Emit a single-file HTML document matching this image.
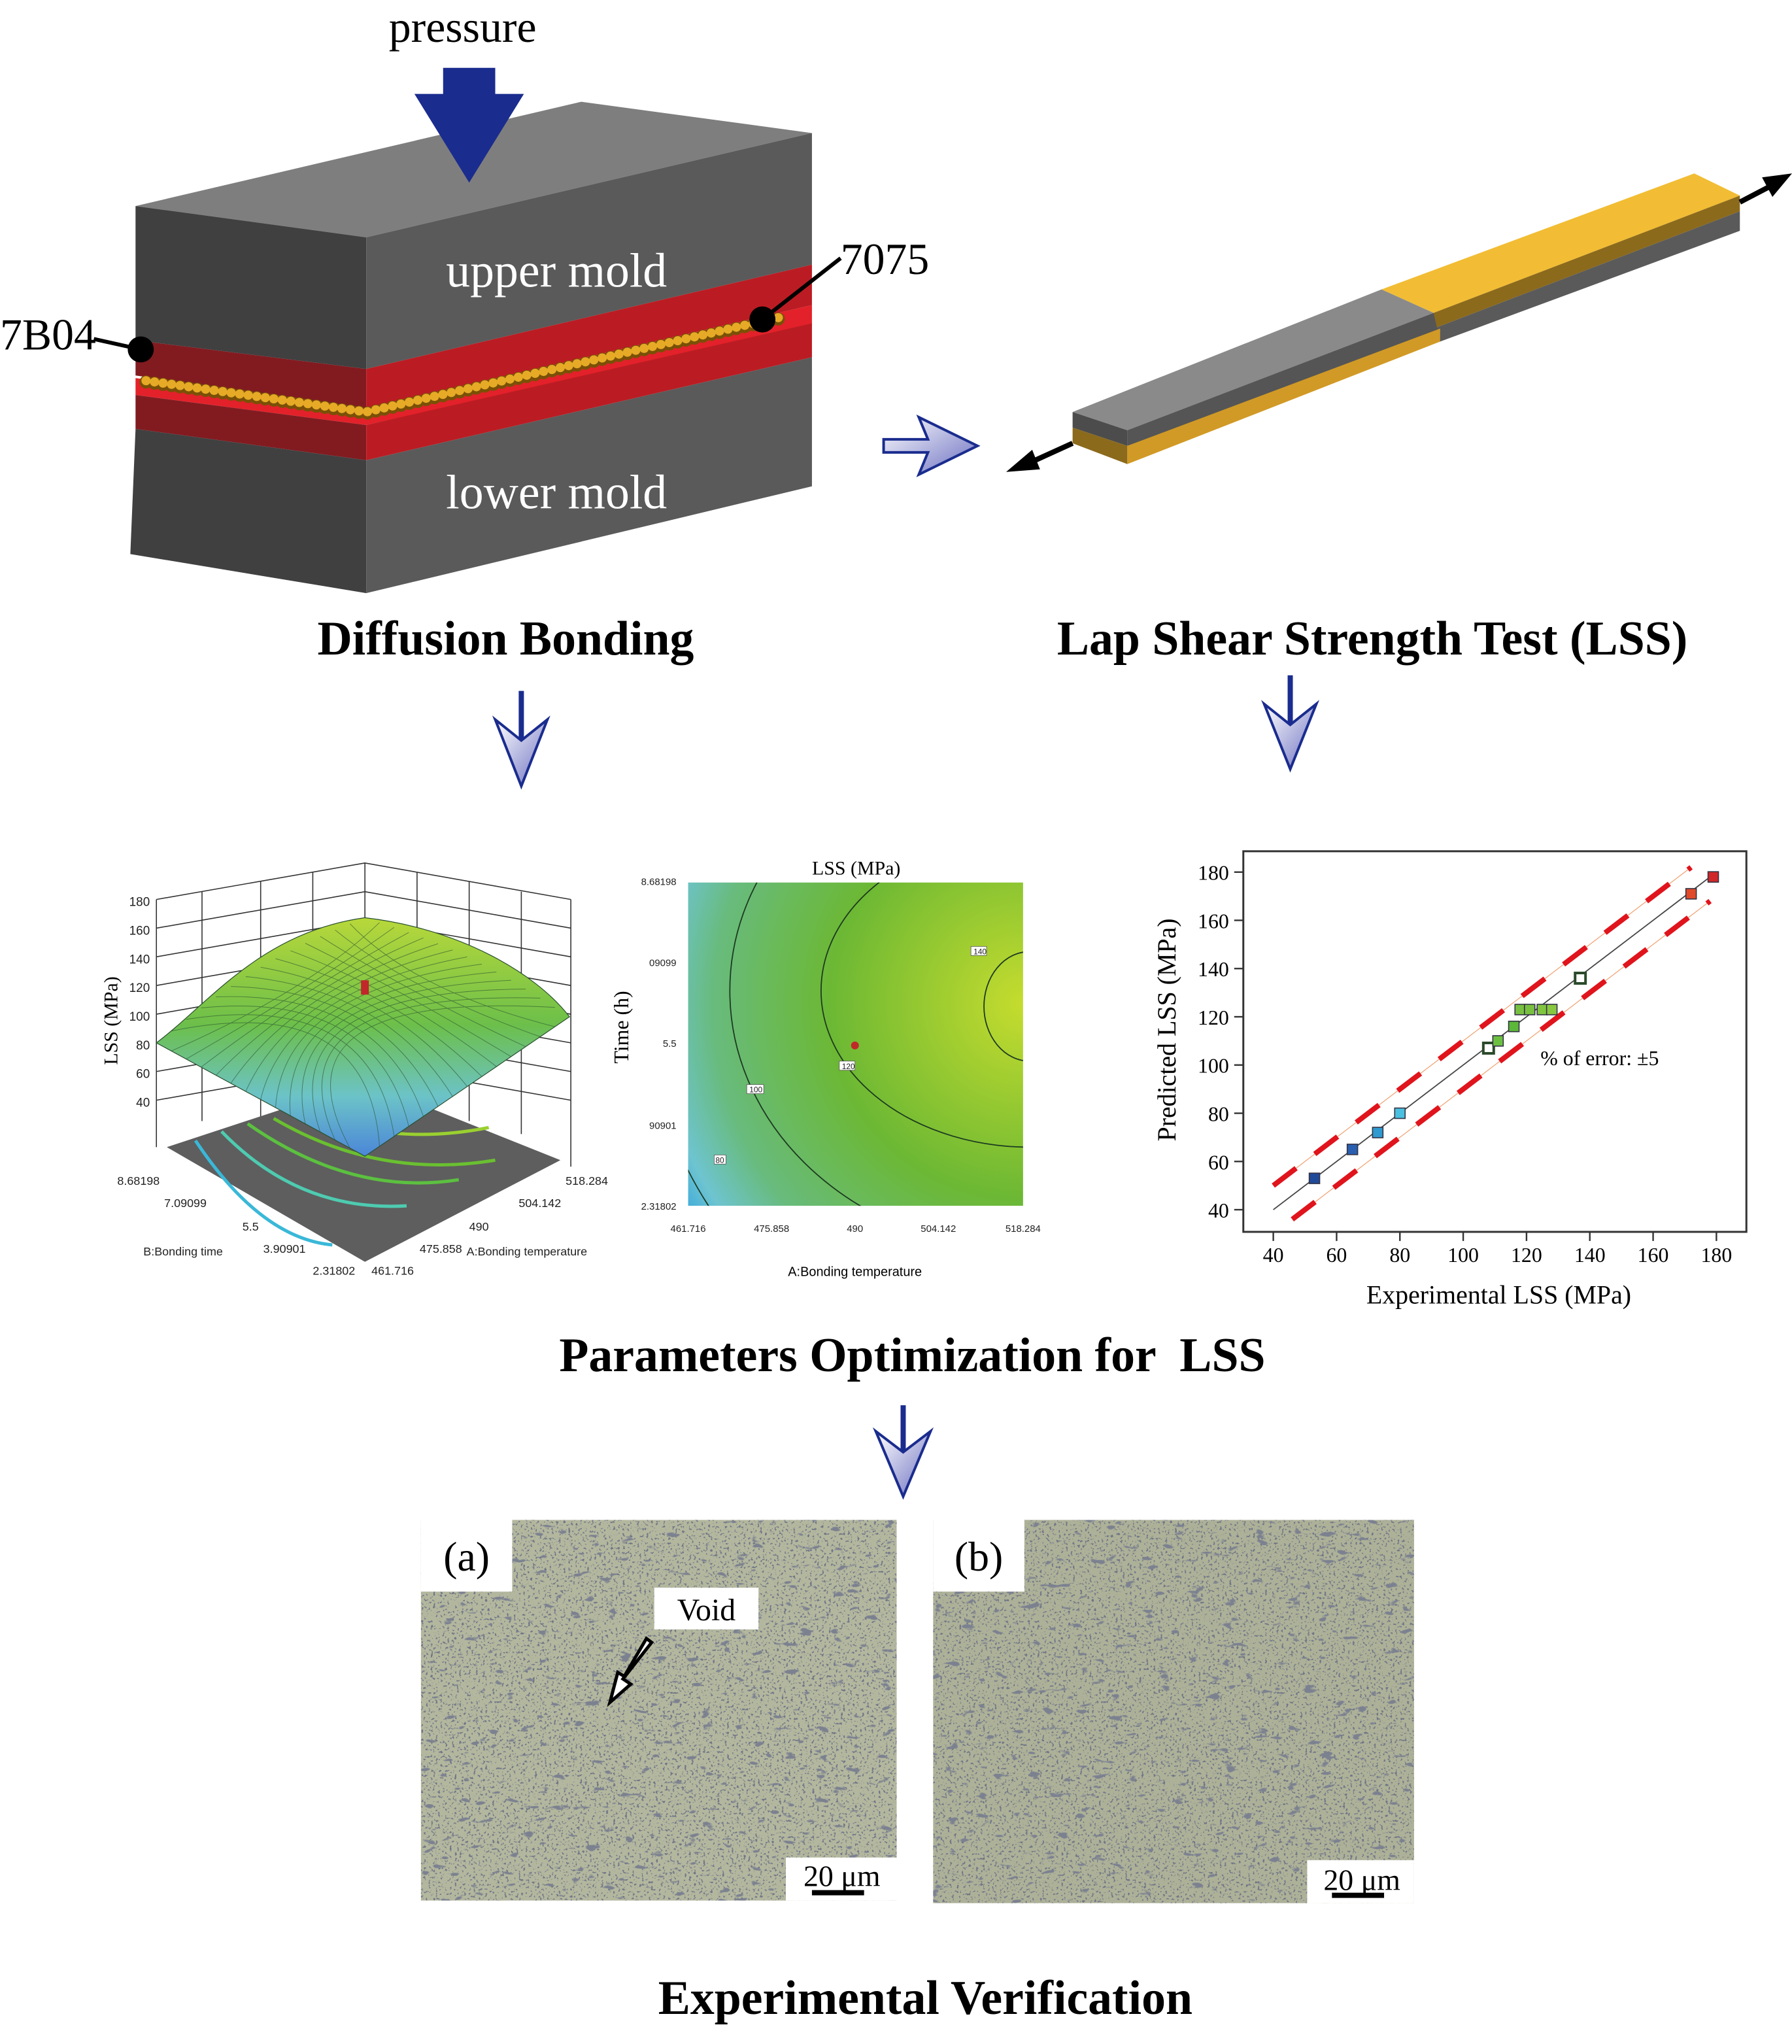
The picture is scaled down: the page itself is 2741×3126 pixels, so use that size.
<!DOCTYPE html>
<html><head><meta charset="utf-8"><style>
html,body{margin:0;padding:0;background:#fff;}
svg{display:block;}
text{font-family:"Liberation Serif",serif;}
.sans text{font-family:"Liberation Sans",sans-serif;}
.sans text.serif{font-family:"Liberation Serif",serif;}
</style></head><body>
<svg id="root" width="2741" height="3126" viewBox="0 0 1375 1568" xmlns="http://www.w3.org/2000/svg">
<defs>
<linearGradient id="arrG" x1="0" y1="0" x2="1" y2="1"><stop offset="0" stop-color="#ffffff"/><stop offset="1" stop-color="#6a6ec0"/></linearGradient>
<linearGradient id="surfG" x1="0" y1="0" x2="0" y2="1"><stop offset="0" stop-color="#b8d83a"/><stop offset="0.45" stop-color="#6cbf4a"/><stop offset="0.75" stop-color="#6cc3c8"/><stop offset="1" stop-color="#4b86d8"/></linearGradient>
<radialGradient id="contG" cx="785" cy="770" r="330" gradientUnits="userSpaceOnUse"><stop offset="0" stop-color="#c5dc2e"/><stop offset="0.45" stop-color="#6cb834"/><stop offset="0.72" stop-color="#68bb7c"/><stop offset="0.85" stop-color="#6ec4d0"/><stop offset="0.95" stop-color="#2aa0e0"/><stop offset="1" stop-color="#1f4fa8"/></radialGradient>
<filter id="micro" x="0" y="0" width="1" height="1"><feTurbulence type="fractalNoise" baseFrequency="0.55" numOctaves="2" seed="4"/><feColorMatrix type="matrix" values="0 0 0 0 0.16  0 0 0 0 0.18  0 0 0 0 0.24  11 0 0 0 -6.6"/><feComposite in2="SourceGraphic" operator="in"/></filter>
<filter id="micro2" x="0" y="0" width="1" height="1"><feTurbulence type="fractalNoise" baseFrequency="0.08 0.2" numOctaves="2" seed="9"/><feColorMatrix type="matrix" values="0 0 0 0 0.2  0 0 0 0 0.22  0 0 0 0 0.28  14 0 0 0 -9.4"/><feComposite in2="SourceGraphic" operator="in"/></filter>
</defs>

<!-- Diffusion bonding -->
<g>
<text x="355" y="32" font-size="34" text-anchor="middle">pressure</text>
<polygon points="104,158 446,78 623,102 281,182" fill="#7e7e7e"/>
<polygon points="104,158 281,182 281,283 104,261" fill="#404040"/>
<polygon points="281,182 623,102 623,203 281,283" fill="#5a5a5a"/>
<path d="M340,52 H380 V72 H402 L360,140 L318,72 H340 Z" fill="#1a2c8e"/>
<polygon points="281,313 623,234 623,250 281,326 104,303 104,290" fill="#e3212a"/>
<polygon points="104,261 281,283 281,313 104,288" fill="#821b20"/>
<polygon points="281,283 623,203 623,234 281,313" fill="#bb1c23"/>
<polyline points="112,293 281,317 600,244" fill="none" stroke="#7a5006" stroke-width="10" stroke-linecap="round" stroke-linejoin="round" stroke-dasharray="0.1,6.5"/>
<polyline points="112,292 281,316 600,243" fill="none" stroke="#e6aa26" stroke-width="7" stroke-linecap="round" stroke-linejoin="round" stroke-dasharray="0.1,6.5"/>
<polygon points="104,303 281,326 281,353 104,329" fill="#821b20"/>
<polygon points="281,326 623,248 623,274 281,353" fill="#bb1c23"/>
<polygon points="104,329 281,353 281,455 100,425" fill="#404040"/>
<polygon points="281,353 623,274 623,373 281,455" fill="#5a5a5a"/>
<text x="427" y="220" font-size="37" fill="#fff" text-anchor="middle">upper mold</text>
<text x="427" y="390" font-size="37" fill="#fff" text-anchor="middle">lower mold</text>
<text x="0" y="268" font-size="34">7B04</text>
<line x1="72" y1="260" x2="108" y2="268" stroke="#000" stroke-width="3"/>
<circle cx="108" cy="268" r="10" fill="#000"/>
<text x="645" y="210" font-size="34">7075</text>
<line x1="585" y1="245" x2="645" y2="198" stroke="#000" stroke-width="3"/>
<circle cx="585" cy="245" r="10" fill="#000"/>
</g>

<path d="M678,337 H712 L705,320 L750,342 L705,364 L712,347 H678 Z" fill="url(#arrG)" stroke="#1a2c8e" stroke-width="2"/>

<!-- Lap shear specimen -->
<g>
<polygon points="1060,222 1300,133 1335,150 1100,240" fill="#f2bd34"/>
<polygon points="1100,240 1335,150 1335,162 1100,252" fill="#8c6a1c"/>
<polygon points="1100,252 1335,162 1335,177 1105,262" fill="#5a5a5a"/>
<polygon points="823,316 1060,222 1100,240 865,330" fill="#8a8a8a"/>
<polygon points="823,316 865,330 865,342 823,328" fill="#4c4c4c"/>
<polygon points="865,330 1100,240 1105,262 865,342" fill="#555"/>
<polygon points="823,328 865,342 865,356 823,340" fill="#8c6a1c"/>
<polygon points="865,342 1105,252 1105,262 865,356" fill="#d19a26"/>
<line x1="823" y1="340" x2="790" y2="355" stroke="#000" stroke-width="4"/>
<polygon points="772,362 792,345 798,360" fill="#000"/>
<line x1="1335" y1="155" x2="1358" y2="143" stroke="#000" stroke-width="4"/>
<polygon points="1375,133 1352,136 1360,151" fill="#000"/>
</g>

<text x="388" y="502" font-size="37" font-weight="bold" text-anchor="middle">Diffusion Bonding</text>
<text x="1053" y="502" font-size="37" font-weight="bold" text-anchor="middle">Lap Shear Strength Test (LSS)</text>

<g><line x1="400" y1="530" x2="400" y2="572" stroke="#1a2c8e" stroke-width="4"/><path d="M380,552 L400,603 L420,552 L400,568 Z" fill="url(#arrG)" stroke="#1a2c8e" stroke-width="2"/></g>
<g><line x1="990" y1="518" x2="990" y2="560" stroke="#1a2c8e" stroke-width="4"/><path d="M970,540 L990,590 L1010,540 L990,556 Z" fill="url(#arrG)" stroke="#1a2c8e" stroke-width="2"/></g>
<g><line x1="693" y1="1078" x2="693" y2="1120" stroke="#1a2c8e" stroke-width="4"/><path d="M672,1098 L693,1148 L714,1098 L693,1114 Z" fill="url(#arrG)" stroke="#1a2c8e" stroke-width="2"/></g>

<!-- 3D surface -->
<g class="sans">
<g stroke="#333" stroke-width="0.8" fill="none">
<path d="M120,690 L280,662 L438,690 M280,662 V830 M120,690 V880 M438,690 V895"/>
<path d="M120,712 L280,684 L438,712 M120,734 L280,706 L438,734 M120,756 L280,728 L438,756 M120,778 L280,750 L438,778 M120,800 L280,772 L438,800 M120,822 L280,794 L438,822 M120,844 L280,816 L438,844"/>
<path d="M155,684 V860 M200,676 V860 M240,669 V840 M320,669 V840 M360,676 V860 M400,684 V870"/>
</g>
<polygon points="128,880 280,830 430,890 280,968" fill="#5e5e5e"/>
<g fill="none" stroke-width="2.5">
<path d="M150,875 Q200,950 255,955" stroke="#3ab8d8"/>
<path d="M170,868 Q230,930 312,925" stroke="#4ecbb0"/>
<path d="M190,862 Q270,918 352,905" stroke="#5cc040"/>
<path d="M210,858 Q290,905 380,890" stroke="#6ac030"/>
<path d="M230,852 Q300,880 375,865" stroke="#9ad030"/>
<path d="M260,840 Q300,860 330,850" stroke="#a8d430"/>
</g>
<path d="M120,800 C160,770 200,715 280,704 C350,712 410,745 437,780 L280,887 Z" fill="url(#surfG)" stroke="#2a5030" stroke-width="0.6"/>
<g id="mesh" stroke="#2a5030" stroke-width="0.5" opacity="0.6"></g>
<rect x="277" y="752" width="6" height="11" fill="#c0282a"/>
<g font-size="9.5" fill="#222" text-anchor="end">
<text x="115" y="695">180</text><text x="115" y="717">160</text><text x="115" y="739">140</text><text x="115" y="761">120</text><text x="115" y="783">100</text><text x="115" y="805">80</text><text x="115" y="827">60</text><text x="115" y="849">40</text>
</g>
<text class="serif" transform="translate(90,783) rotate(-90)" font-size="15" text-anchor="middle">LSS (MPa)</text>
<g font-size="9" fill="#222">
<text x="90" y="909">8.68198</text><text x="126" y="926">7.09099</text><text x="186" y="944">5.5</text><text x="202" y="961">3.90901</text><text x="240" y="978">2.31802</text>
<text x="285" y="978">461.716</text><text x="322" y="961">475.858</text><text x="360" y="944">490</text><text x="398" y="926">504.142</text><text x="434" y="909">518.284</text>
<text x="110" y="963">B:Bonding time</text><text x="358" y="963">A:Bonding temperature</text>
</g>
</g>

<!-- contour -->
<g class="sans">
<text class="serif" x="657" y="671" font-size="15" text-anchor="middle">LSS (MPa)</text>
<clipPath id="cc"><rect x="528" y="677" width="257" height="248"/></clipPath>
<rect x="528" y="677" width="257" height="248" fill="url(#contG)"/>
<g clip-path="url(#cc)" fill="none" stroke="#1c3a20" stroke-width="0.9">
<ellipse cx="790" cy="772" rx="35" ry="42"/>
<ellipse cx="790" cy="760" rx="160" ry="120"/>
<ellipse cx="790" cy="760" rx="230" ry="200"/>
<ellipse cx="790" cy="760" rx="295" ry="300"/>
</g>
<g font-size="6" fill="#222"><rect x="745" y="726" width="12" height="7" fill="#fff" stroke="#555" stroke-width="0.4"/><text x="747" y="732">140</text>
<rect x="644" y="814" width="12" height="7" fill="#fff" stroke="#555" stroke-width="0.4"/><text x="646" y="820">120</text>
<rect x="573" y="832" width="13" height="7" fill="#fff" stroke="#555" stroke-width="0.4"/><text x="575" y="838">100</text>
<rect x="548" y="886" width="9" height="7" fill="#fff" stroke="#555" stroke-width="0.4"/><text x="549" y="892">80</text></g>
<circle cx="656" cy="802" r="3" fill="#c0282a"/>
<g font-size="7.5" fill="#222" text-anchor="end"><text x="519" y="679">8.68198</text><text x="519" y="741">09099</text><text x="519" y="803">5.5</text><text x="519" y="866">90901</text><text x="519" y="928">2.31802</text></g>
<g font-size="7.5" fill="#222" text-anchor="middle"><text x="528" y="945">461.716</text><text x="592" y="945">475.858</text><text x="656" y="945">490</text><text x="720" y="945">504.142</text><text x="785" y="945">518.284</text></g>
<text x="656" y="979" font-size="10" text-anchor="middle">A:Bonding temperature</text>
<text class="serif" transform="translate(482,788) rotate(-90)" font-size="16" text-anchor="middle">Time (h)</text>
</g>

<!-- scatter -->
<g id="scatter">
<rect x="954" y="653" width="386" height="292" fill="none" stroke="#333" stroke-width="1.5"/>
<text x="1182" y="817" font-size="16">% of error: ±5</text>
<text x="1150" y="1000" font-size="20" text-anchor="middle">Experimental LSS (MPa)</text>
<text transform="translate(902,790) rotate(-90)" font-size="20" text-anchor="middle">Predicted LSS (MPa)</text>
</g>

<text x="700" y="1052" font-size="37" font-weight="bold" text-anchor="middle" xml:space="preserve">Parameters Optimization for  LSS</text>

<!-- micrographs -->
<g>
<rect x="323" y="1166" width="365" height="292" fill="#b3b79e"/>
<rect x="323" y="1166" width="365" height="292" fill="#000" filter="url(#micro)"/>
<rect x="323" y="1166" width="365" height="292" fill="#000" filter="url(#micro2)"/>
<rect x="323" y="1166" width="70" height="55" fill="#fff"/>
<text x="358" y="1205" font-size="32" text-anchor="middle">(a)</text>
<rect x="502" y="1218" width="80" height="32" fill="#fff"/>
<text x="542" y="1243" font-size="24" text-anchor="middle">Void</text>
<path d="M500,1260 L478,1288 L484,1292 L468,1306 L474,1283 L479,1286 L496,1257 Z" fill="#fff" stroke="#000" stroke-width="2.5"/>
<rect x="603" y="1425" width="85" height="33" fill="#fff"/>
<text x="646" y="1447" font-size="23" text-anchor="middle">20 μm</text>
<rect x="623" y="1450" width="40" height="4" fill="#000"/>
</g>
<g>
<rect x="716" y="1166" width="369" height="294" fill="#adb198"/>
<rect x="716" y="1166" width="369" height="294" fill="#000" filter="url(#micro)"/>
<rect x="716" y="1166" width="369" height="294" fill="#000" filter="url(#micro2)"/>
<rect x="716" y="1166" width="70" height="55" fill="#fff"/>
<text x="751" y="1205" font-size="32" text-anchor="middle">(b)</text>
<rect x="1003" y="1427" width="82" height="33" fill="#fff"/>
<text x="1045" y="1450" font-size="23" text-anchor="middle">20 μm</text>
<rect x="1022" y="1452" width="40" height="4" fill="#000"/>
</g>
<text x="710" y="1545" font-size="37" font-weight="bold" text-anchor="middle">Experimental Verification</text>
</svg>
<script>
const experimental=[53,65,73,80,108,111,116,118,121,125,128,137,172,179];
const predicted=[53,65,72,80,107,110,116,123,123,123,123,136,171,178];
const pointColors=["#1f4a9a","#2a5fb0","#2e9ad0","#4ac0e0","hollow","#6cc040","#5cb838","#78c040","#78c040","#80c440","#88c840","hollow","#e04a2a","#d02828"];
const xTicks=[40,60,80,100,120,140,160,180];
const yTicks=[40,60,80,100,120,140,160,180];
const errorOffset=[10,-10];
const NS="http://www.w3.org/2000/svg";
const sx=v=>977+(v-40)*(1317-977)/140;
const sy=v=>928-(v-40)*(928-669)/140;
const g=document.getElementById('scatter');
function mk(tag,attrs){const e=document.createElementNS(NS,tag);for(const k in attrs)e.setAttribute(k,attrs[k]);g.appendChild(e);return e;}
xTicks.forEach(t=>{const l=mk('line',{x1:sx(t),x2:sx(t),y1:945,y2:952,stroke:'#333','stroke-width':1.2});


const tx=mk('text',{x:sx(t),y:968,'font-size':16,'text-anchor':'middle'});tx.textContent=t;

});
yTicks.forEach(t=>{const l=mk('line',{x1:947,x2:954,y1:sy(t),y2:sy(t),stroke:'#333','stroke-width':1.2});


const tx=mk('text',{x:943,y:sy(t)+6,'font-size':16,'text-anchor':'end'});tx.textContent=t;

});
const diag=mk('line',{x1:sx(40),y1:sy(40),x2:sx(180),y2:sy(180),stroke:'#444','stroke-width':0.9});


errorOffset.forEach(o=>{const a=o>0?40:46,b=o>0?172:178;
const thin=mk('line',{x1:sx(a),y1:sy(a+o),x2:sx(b),y2:sy(b+o),stroke:'#f0a070','stroke-width':0.6});


const d=mk('line',{x1:sx(a),y1:sy(a+o),x2:sx(b),y2:sy(b+o),stroke:'#e0141c','stroke-width':4,'stroke-dasharray':'22,18'});

});
experimental.forEach((v,i)=>{const c=pointColors[i];const r=mk('rect',{x:sx(v)-4,y:sy(predicted[i])-4,width:8,height:8,fill:c==='hollow'?'#fff':c,stroke:c==='hollow'?'#2a4a2a':'#334','stroke-width':c==='hollow'?2:0.8});

});
const mg=document.getElementById('mesh');
for(let i=1;i<14;i++){const t=i/14;
const p1=document.createElementNS(NS,'path');
p1.setAttribute('d',`M${120+160*t},${800-96*t+Math.sin(Math.PI*t)*-10} Q${280+40*t},${760} ${280+157*t},${887-107*t}`);
p1.setAttribute('fill','none');


mg.appendChild(p1);
const p2=document.createElementNS(NS,'path');
p2.setAttribute('d',`M${280+157*t},${704+76*t-Math.sin(Math.PI*t)*8} Q${240-40*t},${760} ${120+160*t},${800+87*t}`);
p2.setAttribute('fill','none');


mg.appendChild(p2);}
</script>
</body></html>
